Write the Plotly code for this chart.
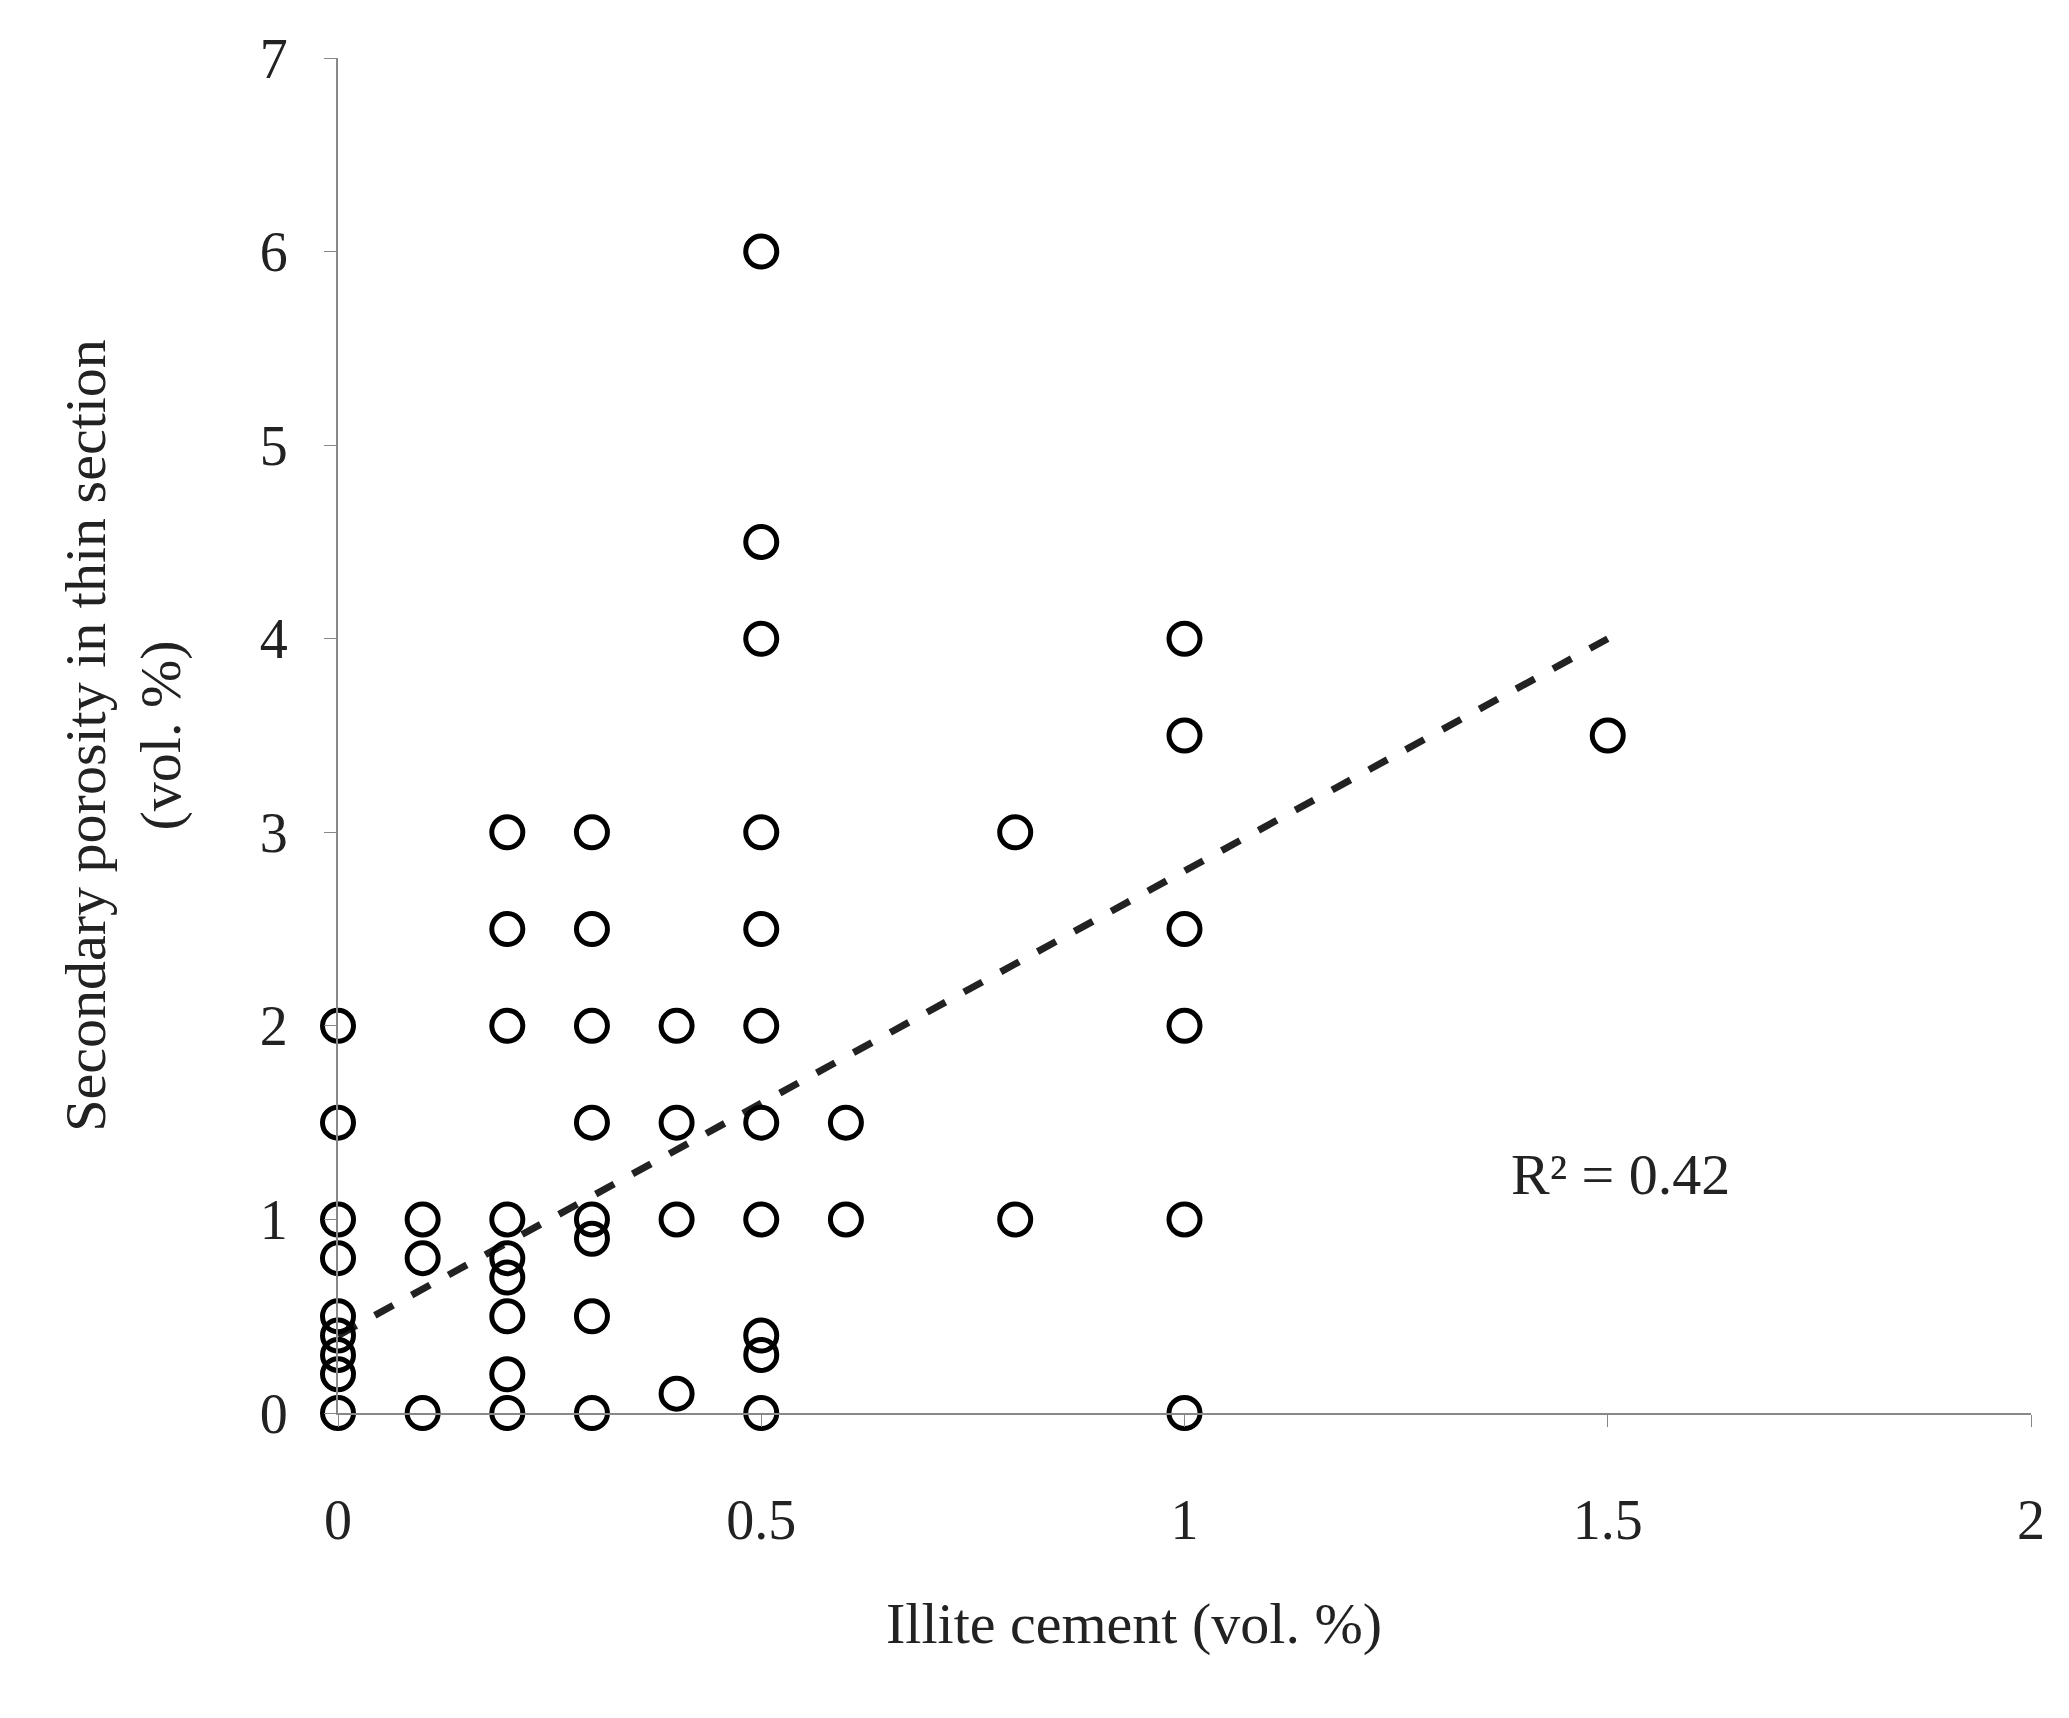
import plotly.graph_objects as go

illite = ([0]*9 + [0.1]*3 + [0.2]*9 + [0.3]*8 + [0.4]*4 + [0.5]*11 + [0.6]*2 + [0.8]*2 + [1.0]*6 + [1.5])
porosity = ([0, 0.2, 0.3, 0.4, 0.5, 0.8, 1, 1.5, 2] +
            [0, 0.8, 1] +
            [0, 0.2, 0.5, 0.7, 0.8, 1, 2, 2.5, 3] +
            [0, 0.5, 0.9, 1, 1.5, 2, 2.5, 3] +
            [0.1, 1, 1.5, 2] +
            [0, 0.3, 0.4, 1, 1.5, 2, 2.5, 3, 4, 4.5, 6] +
            [1, 1.5] +
            [1, 3] +
            [0, 1, 2, 2.5, 3.5, 4] +
            [3.5])
trend_x = [0, 1.5]
trend_y = [0.4, 4.0]
x_ticks = [0, 0.5, 1, 1.5, 2]
x_ticklabels = ["0", "0.5", "1", "1.5", "2"]
y_ticks = [0, 1, 2, 3, 4, 5, 6, 7]

F = "Liberation Serif"
fig = go.Figure()
fig.add_trace(go.Scatter(x=trend_x, y=trend_y, mode="lines",
                         line=dict(color="#222", width=7, dash="dash"), cliponaxis=False))
fig.add_trace(go.Scatter(x=illite, y=porosity, mode="markers", cliponaxis=False,
                         marker=dict(symbol="circle-open", size=31, color="black",
                                     line=dict(width=5, color="black"))))
fig.update_layout(
    width=2069, height=1718, paper_bgcolor="white", plot_bgcolor="white",
    showlegend=False, margin=dict(l=330, r=46, t=50, b=313),
    font=dict(family=F, size=56, color="#222"),
    xaxis=dict(range=[0, 2], tickvals=x_ticks, ticktext=x_ticklabels, showgrid=False,
               zeroline=False, showline=True, linecolor="#888", linewidth=2,
               ticks="outside", ticklen=12, tickcolor="#888", ticklabelstandoff=45),
    yaxis=dict(range=[0, 7], tickvals=y_ticks, showgrid=False, zeroline=False,
               showline=True, linecolor="#888", linewidth=2,
               ticks="outside", ticklen=12, tickcolor="#888", ticklabelstandoff=25),
    annotations=[
        dict(text="Illite cement (vol. %)", xref="paper", yref="paper", x=0.47, y=-0.13,
             yanchor="top", showarrow=False, font=dict(size=58)),
        dict(text="Secondary porosity in thin section<br>(vol. %)", xref="paper", yref="paper",
             x=-0.17, y=0.5, textangle=-90, showarrow=False, font=dict(size=58)),
        dict(text="R² = 0.42", x=1.515, y=1.23, showarrow=False, font=dict(size=58)),
    ],
)
fig.write_html("out.html")
